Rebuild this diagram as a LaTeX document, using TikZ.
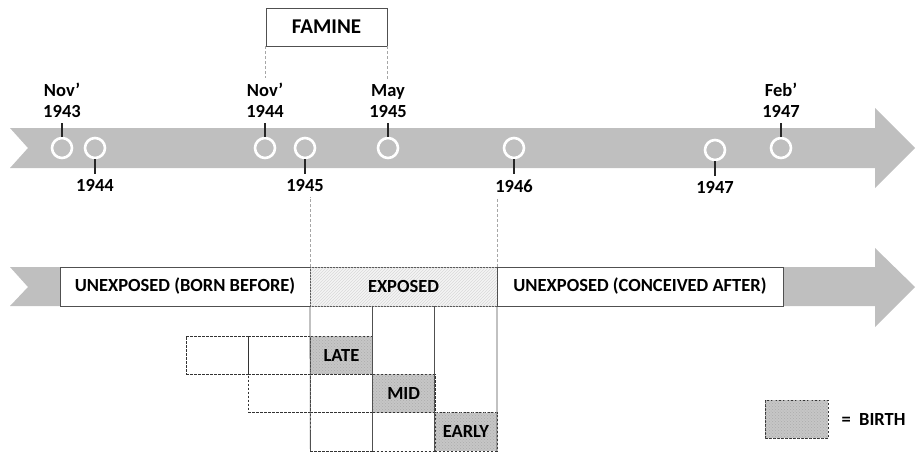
\documentclass[tikz,border=0pt]{standalone}
\usepackage{fontspec}
\setmainfont{Carlito}
\usetikzlibrary{positioning,patterns}
\definecolor{bandGray}{RGB}{191,191,191}
\definecolor{lineGray}{RGB}{80,80,80}

\begin{document}
\begin{tikzpicture}[
  x=1pt,
  y=-1pt,
  every node/.style={font=\bfseries\fontsize{18.5}{21}\selectfont},
  band/.style={fill=bandGray, draw=none},
  ring/.style={
    circle,
    draw=white,
    line width=2.6pt,
    minimum size=20pt,
    inner sep=0pt,
    fill=bandGray
  },
  datelabel/.style={align=center, inner xsep=0pt, inner ysep=5pt},
  tick/.style={line width=2.4pt, black!85},
  faminebox/.style={
    draw=lineGray,
    line width=0.8pt,
    fill=white,
    minimum width=121pt,
    minimum height=38pt,
    font=\bfseries\fontsize{21}{24}\selectfont
  },
  guide/.style={draw=gray!70, dash pattern=on 3pt off 2pt, line width=0.5pt},
  period/.style={
    draw=lineGray,
    line width=0.8pt,
    minimum height=39pt,
    inner sep=0pt,
    outer sep=0pt
  },
  exposedfill/.style={fill=gray!8, postaction={pattern=north east lines, pattern color=gray!30}},
  birthfill/.style={fill=gray!45, postaction={pattern=crosshatch dots, pattern color=gray!65}},
  cell/.style={
    draw=black!80,
    dash pattern=on 2.5pt off 1.5pt,
    line width=0.6pt,
    minimum width=62.2pt,
    minimum height=38.3pt,
    inner sep=0pt,
    outer sep=0pt
  },
  divider/.style={draw=lineGray, line width=0.8pt}
]
  \useasboundingbox (0,0) rectangle (920,453);

  % calendar arrow
  \fill[band] (10,128) -- (875,128) -- (875,108) -- (915,148) -- (875,188)
    -- (875,168) -- (10,168) -- (28,148) -- cycle;

  \node[ring] (n43) at (62,148) {};
  \node[ring] (y44) at (95,148) {};
  \node[ring] (n44) at (265,148) {};
  \node[ring] (y45) at (305,148) {};
  \node[ring] (m45) at (388,148) {};
  \node[ring] (y46) at (514,148) {};
  \node[ring] (y47) at (715,150) {};
  \node[ring] (f47) at (781,148) {};

  \node[datelabel, above=14pt of n43] (ln43) {Nov’\\1943};
  \node[datelabel, above=14pt of n44] (ln44) {Nov’\\1944};
  \node[datelabel, above=14pt of m45] (lm45) {May\\1945};
  \node[datelabel, above=14pt of f47] (lf47) {Feb’\\1947};
  \node[datelabel, below=15pt of y44] (ly44) {1944};
  \node[datelabel, below=15pt of y45] (ly45) {1945};
  \node[datelabel, below=15pt of y46] (ly46) {1946};
  \node[datelabel, below=15pt of y47] (ly47) {1947};

  \draw[tick] (n43) -- (ln43);
  \draw[tick] (n44) -- (ln44);
  \draw[tick] (m45) -- (lm45);
  \draw[tick] (f47) -- (lf47);
  \draw[tick] (y44) -- (ly44);
  \draw[tick] (y45) -- (ly45);
  \draw[tick] (y46) -- (ly46);
  \draw[tick] (y47) -- (ly47);

  \node[faminebox] (famine) at (326.5,27) {FAMINE};
  \draw[guide] (famine.south west) -- (famine.south west |- ln44.north);
  \draw[guide] (famine.south east) -- (famine.south east |- lm45.north);

  % exposure arrow
  \fill[band] (10,267) -- (875,267) -- (875,248) -- (915,287) -- (875,327)
    -- (875,306) -- (10,306) -- (28,287) -- cycle;

  \node[period, fill=white, minimum width=250pt] (before) at (185,286.5) {UNEXPOSED (BORN BEFORE)};
  \node[period, exposedfill, minimum width=187pt, right=0pt of before] (exposed) {EXPOSED};
  \node[period, fill=white, minimum width=286pt, right=0pt of exposed] (after) {UNEXPOSED (CONCEIVED AFTER)};

  \draw[guide] (exposed.north west) -- (exposed.north west |- ly45.south);
  \draw[guide] (exposed.north east) -- (exposed.north east |- ly46.south);

  % birth cells
  \node[cell] (r1a) at (217.1,355.2) {};
  \node[cell] (r1b) at (279.3,355.2) {};
  \node[cell, birthfill] (late) at (341.5,355.2) {LATE};
  \node[cell] (r2b) at (279.3,393.5) {};
  \node[cell] (r2c) at (341.5,393.5) {};
  \node[cell, birthfill] (mid) at (403.7,393.5) {MID};
  \node[cell] (r3c) at (341.5,431.8) {};
  \node[cell] (r3d) at (403.7,431.8) {};
  \node[cell, birthfill] (early) at (465.9,431.8) {EARLY};

  \draw[divider] (exposed.south west) -- (r3c.south west);
  \draw[divider] (r3c.south east |- exposed.south) -- (r3c.south east);
  \draw[divider] (r3d.south east |- exposed.south) -- (r3d.south east);
  \draw[divider] (exposed.south east) -- (early.south east);

  % key
  \node[cell, birthfill, minimum width=63pt, minimum height=38pt] (key) at (796.5,419) {};
  \node[right=10pt of key] (keytext) {=\ \ BIRTH};
\end{tikzpicture}
\end{document}
